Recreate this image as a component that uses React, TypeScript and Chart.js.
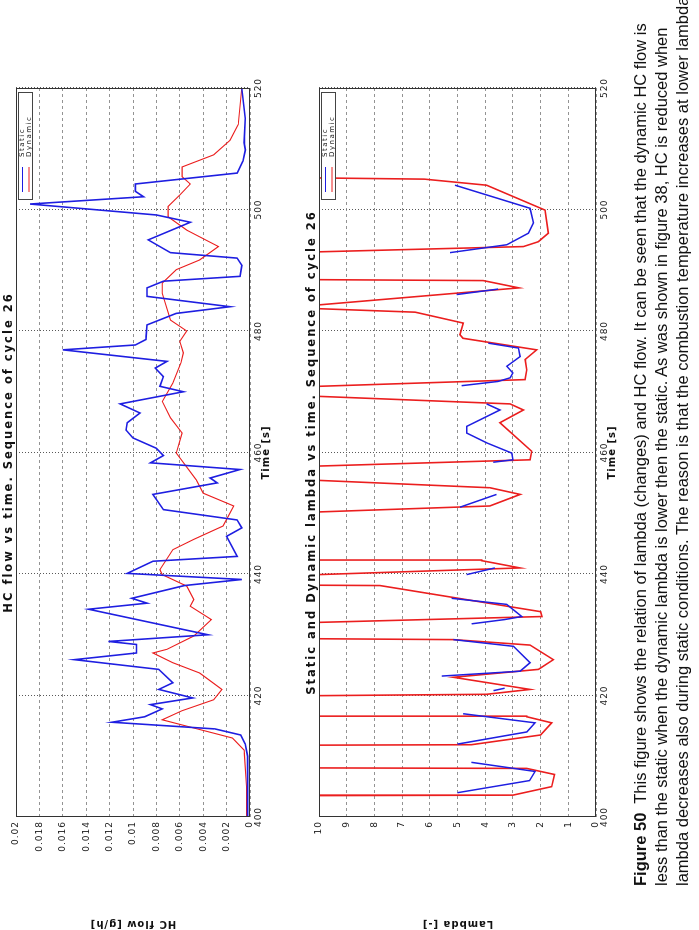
import React, { useEffect, useRef } from 'react';
import { Chart, registerables } from 'chart.js';

Chart.register(...registerables);

// ---------- data ----------
const timeTicks = [400, 420, 440, 460, 480, 500, 520];
const hcTicks = [0, 0.002, 0.004, 0.006, 0.008, 0.01, 0.012, 0.014, 0.016, 0.018, 0.02];
const lambdaTicks = [0, 1, 2, 3, 4, 5, 6, 7, 8, 9, 10];
const legendLabels = ['Static', 'Dynamic'];

// HC flow, static
const hcStaticT = [400, 405, 410, 412, 413.5, 414.5, 415.6, 416.5, 417.8, 418.5, 419.6, 421, 422.1, 424.3, 425.9, 427, 428.4, 428.9, 430, 434.2, 435.2, 436, 438.1, 439.1, 440.1, 442.1, 442.9, 446.2, 447.6, 448.9, 450.6, 453.1, 455, 455.8, 457.2, 458.3, 459.5, 460.7, 462.4, 463.7, 464.9, 466.5, 468, 470, 470.9, 472.5, 473.9, 475, 476.9, 477.7, 478.6, 481, 482.9, 484, 485.7, 487.1, 488.2, 489, 490.8, 492, 492.9, 495, 497.9, 499.1, 500.9, 502.1, 503, 504.2, 506, 508, 509.8, 511, 515, 520];
const hcStaticV = [0.0002, 0.0002, 0.0002, 0.0004, 0.0008, 0.0030, 0.0118, 0.0090, 0.0075, 0.0085, 0.0049, 0.0078, 0.0066, 0.0078, 0.0150, 0.0097, 0.0097, 0.0121, 0.0036, 0.0138, 0.0088, 0.0101, 0.0056, 0.0007, 0.0105, 0.0083, 0.0011, 0.0020, 0.0007, 0.0011, 0.0074, 0.0083, 0.0028, 0.0034, 0.00085, 0.0085, 0.0074, 0.0080, 0.0100, 0.0106, 0.0105, 0.0094, 0.0111, 0.0057, 0.0077, 0.0074, 0.0081, 0.0071, 0.0160, 0.0098, 0.0089, 0.0088, 0.0063, 0.0017, 0.0088, 0.0088, 0.0074, 0.00085, 0.0007, 0.0011, 0.0068, 0.0087, 0.0051, 0.0080, 0.0188, 0.0091, 0.0098, 0.0098, 0.0011, 0.0006, 0.0004, 0.0005, 0.0004, 0.0007];

// HC flow, dynamic
const hcDynT = [400, 405, 411, 413, 414.5, 416, 417.5, 419.3, 421, 423.7, 425.4, 427, 427.6, 429.8, 432.5, 434.7, 435.8, 438, 439.9, 440.7, 444, 445.7, 447.9, 451.2, 453.3, 455.5, 459.9, 463.2, 465.7, 468.4, 471.4, 474.8, 476.4, 478.3, 480, 481.8, 486.2, 487.9, 490.1, 491.7, 493.9, 496.6, 498.8, 500.5, 502.4, 504.2, 505.4, 507, 509, 511.4, 514, 520];
const hcDynV = [0.0003, 0.0003, 0.0005, 0.0015, 0.0045, 0.0075, 0.0058, 0.0031, 0.0024, 0.0043, 0.0066, 0.0083, 0.0071, 0.0048, 0.0033, 0.0051, 0.0048, 0.0054, 0.0075, 0.0077, 0.0066, 0.0048, 0.0023, 0.0014, 0.0040, 0.0046, 0.0063, 0.0058, 0.0068, 0.0075, 0.0066, 0.0059, 0.0057, 0.0060, 0.0054, 0.0068, 0.0075, 0.0075, 0.0063, 0.0043, 0.0027, 0.0054, 0.0070, 0.0070, 0.0060, 0.0051, 0.0058, 0.0058, 0.0031, 0.0017, 0.0010, 0.0007];

// Lambda, dynamic (values above 10 run off the plot)
const lamDynT = [400, 403.5, 403.6, 405, 407, 408, 408.1, 411.8, 411.9, 413.5, 415.5, 416.5, 416.6, 419.9, 420.2, 421.0, 423.0, 424.3, 425.9, 428.3, 429.2, 429.4, 431.8, 433.0, 433.8, 438.1, 438.2, 439.6, 441.0, 442.2, 442.3, 449.9, 451.2, 453.1, 454.2, 455.8, 457.5, 458.8, 460.2, 464.9, 467.0, 468.0, 469.6, 470.6, 472.0, 473.6, 475.3, 476.9, 478.8, 479.4, 481.3, 483.1, 484.0, 484.3, 487.1, 488.3, 488.5, 492.8, 493.9, 494.7, 496.1, 499.9, 504.0, 505.0, 505.3, 520];
const lamDynV = [12, 12, 3.0, 1.6, 1.5, 2.5, 12, 12, 4.5, 2.0, 1.6, 2.5, 12, 12, 3.95, 2.38, 5.15, 2.08, 1.54, 2.38, 5.15, 12, 12, 1.95, 2.0, 7.8, 12, 12, 2.74, 4.13, 12, 12, 3.83, 2.74, 3.83, 12, 12, 2.38, 2.32, 3.47, 2.62, 3.10, 12, 12, 2.56, 2.50, 2.56, 2.14, 4.80, 4.91, 4.79, 6.53, 12, 10, 2.78, 4.07, 12, 12, 2.62, 2.08, 1.72, 1.84, 3.95, 6.2, 12, 12];

// Lambda, static (only visible where it leaves the dynamic trace)
const lamStaticT = [404, 406, 407.5, 409, null, 412, 414, 415.5, 417, null, 420.8, 421.2, null, 423.2, 424.0, 425.4, 428.1, 429.2, null, 431.8, 432.5, 433.0, 435.0, 436.0, null, 439.9, 441.0, null, 451.0, 453.1, null, 458.4, 458.8, 459.9, 461.6, 463.2, 464.3, 467.0, 468.0, null, 471.0, 471.7, 472.3, 473.1, 474.2, 475.8, 477.2, 478.0, null, 486.0, 486.9, null, 492.9, 494.2, 496.1, 497.8, 500.2, 504.0];
const lamStaticV = [5.0, 2.4, 2.2, 4.5, null, 5.0, 2.5, 2.2, 4.8, null, 3.7, 3.3, null, 5.57, 2.74, 2.38, 2.98, 5.15, null, 4.49, 3.3, 2.68, 3.22, 5.21, null, 4.67, 3.65, null, 4.91, 3.59, null, 3.71, 3.0, 3.04, 3.95, 4.67, 4.67, 3.47, 3.95, null, 4.85, 3.53, 3.1, 3.0, 3.22, 2.74, 2.80, 3.89, null, 5.03, 3.53, null, 5.27, 3.22, 2.44, 2.26, 2.38, 5.09];

// ---------- styling ----------
const BLUE = 'rgb(30,30,225)';
const RED = 'rgb(235,30,30)';
const TICK_FONT = { family: 'DejaVu Sans', size: 9 };

function pts(ts: (number | null)[], vs: (number | null)[]) {
  return ts.map((t, i) => ({ x: t === null ? NaN : t, y: vs[i] }));
}

const spacingPlugin = {
  id: 'spacing',
  beforeUpdate(chart: any) { chart.ctx.letterSpacing = '1px'; },
  beforeDraw(chart: any) { chart.ctx.letterSpacing = '1px'; },
};

const boxPlugin = {
  id: 'boxAndLegend',
  afterDraw(chart: any) {
    const ctx = chart.ctx;
    const a = chart.chartArea;
    ctx.save();
    ctx.strokeStyle = '#333';
    ctx.lineWidth = 1;
    ctx.setLineDash([]);
    ctx.strokeRect(Math.round(a.left) + 0.5, Math.round(a.top) + 0.5, Math.round(a.right - a.left) - 1, Math.round(a.bottom - a.top) - 1);
    const w = 108, h = 15;
    const x = Math.round(a.right - 4 - w);
    const y = Math.round(a.top + 2);
    ctx.fillStyle = '#fff';
    ctx.fillRect(x, y, w, h);
    ctx.strokeStyle = '#444';
    ctx.strokeRect(x + 0.5, y + 0.5, w - 1, h - 1);
    ctx.letterSpacing = '1.5px';
    ctx.font = '7px "DejaVu Sans"';
    ctx.textBaseline = 'middle';
    legendLabels.forEach((lab, i) => {
      const cy = y + 4.5 + i * 6.5;
      ctx.strokeStyle = i === 0 ? BLUE : RED;
      ctx.lineWidth = 1;
      ctx.beginPath();
      ctx.moveTo(x + 8, cy);
      ctx.lineTo(x + 33, cy);
      ctx.stroke();
      ctx.fillStyle = '#222';
      ctx.fillText(lab, x + 43, cy);
    });
    ctx.restore();
  },
};

function makeOptions(yMin: number, yMax: number, yTicks: number[], yTitle: string, fmt: (v: number) => string, padTop: number, padBottom: number) {
  return {
    animation: false,
    responsive: false,
    maintainAspectRatio: false,
    layout: { padding: { left: 0, right: 88, top: padTop, bottom: padBottom } },
    plugins: { legend: { display: false }, title: { display: false }, tooltip: { enabled: false } },
    elements: { point: { radius: 0 }, line: { tension: 0 } },
    scales: {
      x: {
        type: 'linear',
        min: 400,
        max: 520,
        afterBuildTicks: (s: any) => { s.ticks = timeTicks.map((v) => ({ value: v })); },
        afterFit: (s: any) => { s.height = 22; },
        grid: { color: 'rgba(60,60,60,0.85)', lineWidth: 1, drawTicks: false },
        border: { display: false, dash: [1, 2] },
        ticks: { font: TICK_FONT, color: '#222', padding: 3, maxRotation: 0, autoSkip: false },
        title: { display: true, text: 'Time [s]', color: '#111', font: { family: 'DejaVu Sans', size: 10, weight: 'bold' }, padding: { top: 0, bottom: 0 } },
      },
      y: {
        min: yMin,
        max: yMax,
        afterBuildTicks: (s: any) => { s.ticks = yTicks.map((v) => ({ value: v })); },
        afterFit: (s: any) => { s.width = 113; },
        grid: { color: 'rgba(120,120,120,0.8)', lineWidth: 1, drawTicks: false },
        border: { display: false, dash: [3, 3] },
        ticks: { font: TICK_FONT, color: '#222', padding: 4, autoSkip: false, callback: (v: number) => fmt(v) },
        title: { display: true, text: yTitle, color: '#111', font: { family: 'DejaVu Sans', size: 10, weight: 'bold' }, padding: { top: 0, bottom: 4 } },
      },
    },
  };
}

export default function App() {
  const c1 = useRef<HTMLCanvasElement>(null);
  const c2 = useRef<HTMLCanvasElement>(null);

  useEffect(() => {
    const o1: any = makeOptions(0, 0.02, hcTicks, 'HC flow [g/h]', (v) => String(Number(v.toFixed(3))), 16, 18);
    const ch1 = new Chart(c1.current as HTMLCanvasElement, {
      type: 'line',
      data: {
        datasets: [
          { label: legendLabels[0], data: pts(hcStaticT, hcStaticV), borderColor: BLUE, borderWidth: 1.6, pointRadius: 0, fill: false },
          { label: legendLabels[1], data: pts(hcDynT, hcDynV), borderColor: RED, borderWidth: 1.1, pointRadius: 0, fill: false },
        ],
      },
      options: o1,
      plugins: [spacingPlugin, boxPlugin],
    } as any);

    const o2: any = makeOptions(0, 10, lambdaTicks, 'Lambda [-]', (v) => String(v), 29, 2);
    const ch2 = new Chart(c2.current as HTMLCanvasElement, {
      type: 'line',
      data: {
        datasets: [
          { label: legendLabels[0], data: pts(lamStaticT, lamStaticV), borderColor: BLUE, borderWidth: 1.5, pointRadius: 0, fill: false, spanGaps: false },
          { label: legendLabels[1], data: pts(lamDynT, lamDynV), borderColor: RED, borderWidth: 1.6, pointRadius: 0, fill: false },
        ],
      },
      options: o2,
      plugins: [spacingPlugin, boxPlugin],
    } as any);

    return () => { ch1.destroy(); ch2.destroy(); };
  }, []);

  const titleStyle: React.CSSProperties = {
    position: 'absolute', left: 113, width: 729, textAlign: 'center',
    fontFamily: 'DejaVu Sans', fontWeight: 'bold', fontSize: 11.5, letterSpacing: '2px', lineHeight: '15px',
    color: '#111', whiteSpace: 'nowrap',
  };

  return (
    <div
      style={{
        position: 'fixed', left: 0, top: 0, width: 930, height: 699, overflow: 'hidden',
        background: '#fff', transformOrigin: '0 0', transform: 'translate(0px, 930px) rotate(-90deg)',
      }}
    >
      <canvas ref={c1} width={930} height={290} style={{ position: 'absolute', left: 0, top: 0 }} />
      <canvas ref={c2} width={930} height={330} style={{ position: 'absolute', left: 0, top: 290 }} />
      <div style={{ ...titleStyle, top: 1 }}>HC flow vs time. Sequence of cycle 26</div>
      <div style={{ ...titleStyle, top: 304 }}>Static and Dynamic lambda vs time. Sequence of cycle 26</div>
      <div
        style={{
          position: 'absolute', left: 44, top: 630, width: 1000, whiteSpace: 'nowrap',
          fontFamily: '"Liberation Sans", Arial, sans-serif', fontSize: 16.5, lineHeight: '21px', color: '#111',
        }}
      >
        <b>Figure 50</b>&nbsp; This figure shows the relation of lambda (changes) and HC flow. It can be seen that the dynamic HC flow is<br />
        less than the static when the dynamic lambda is lower then the static. As was shown in figure 38, HC is reduced when<br />
        lambda decreases also during static conditions. The reason is that the combustion temperature increases at lower lambda
      </div>
    </div>
  );
}
